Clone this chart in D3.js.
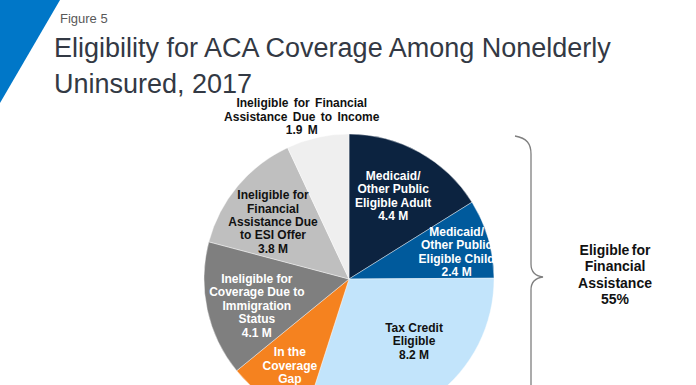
<!DOCTYPE html>
<html>
<head>
<meta charset="utf-8">
<script src="https://cdn.jsdelivr.net/npm/d3@7"></script>
<style>
  html, body { margin: 0; padding: 0; background: #fff; overflow: hidden; }
  text { font-family: "Liberation Sans", Arial, sans-serif; }
</style>
</head>
<body>
<div id="chart"></div>
<script>
// Slices, clockwise from 12 o'clock (millions)
const categories = [
    "Medicaid/Other Public Eligible Adult",
    "Medicaid/Other Public Eligible Child",
    "Tax Credit Eligible",
    "In the Coverage Gap",
    "Ineligible for Coverage Due to Immigration Status",
    "Ineligible for Financial Assistance Due to ESI Offer",
    "Ineligible for Financial Assistance Due to Income"
];
const values = [4.4, 2.4, 8.2, 2.5, 4.1, 3.8, 1.9];
const labelLines = [
    ["Medicaid/", "Other Public", "Eligible Adult", "4.4 M"],
    ["Medicaid/", "Other Public", "Eligible Child", "2.4 M"],
    ["Tax Credit", "Eligible", "8.2 M"],
    ["In the", "Coverage", "Gap"],
    ["Ineligible for", "Coverage Due to", "Immigration", "Status", "4.1 M"],
    ["Ineligible for", "Financial", "Assistance Due", "to ESI Offer", "3.8 M"],
    ["Ineligible for Financial", "Assistance Due to Income", "1.9 M"]
];
const braceLines = ["Eligible for", "Financial", "Assistance", "55%"];

const colors = ["#0c2340", "#005a9c", "#c2e4fb", "#f5821f", "#7f7f7f", "#bfbfbf", "#efefef"];
const textColors = ["#fff", "#fff", "#111", "#fff", "#fff", "#111", "#111"];
// label placement: [angle shift in degrees, radius]
const labelPlace = [[-1, 94], [2, 111], [-10, 90], [0, 105], [-4, 96], [-3, 95], [-3.7, 169]];

const width = 696;
const height = 385;

const svg = d3.select("#chart")
    .append("svg")
    .attr("width", width)
    .attr("height", height);

// Blue corner accent
svg.append("path")
    .attr("d", "M0,0 L60,0 L0,103 Z")
    .attr("fill", "#0077c8");

svg.append("text")
    .attr("x", 60)
    .attr("y", 23)
    .attr("font-size", "13px")
    .attr("fill", "#595959")
    .text("Figure 5");

const title = svg.append("text")
    .attr("x", 54)
    .attr("font-size", "27px")
    .attr("fill", "#333944");
title.append("tspan").attr("x", 54).attr("y", 57)
    .text("Eligibility for ACA Coverage Among Nonelderly");
title.append("tspan").attr("x", 54).attr("y", 93)
    .text("Uninsured, 2017");

// Pie
const cx = 349, cy = 279, radius = 145;
const pie = d3.pie().sort(null).value(d => d);
const arcs = pie(values);
const arc = d3.arc().innerRadius(0).outerRadius(radius);

const g = svg.append("g").attr("transform", `translate(${cx},${cy})`);

g.selectAll("path.slice")
    .data(arcs)
    .enter()
    .append("path")
    .attr("class", "slice")
    .attr("d", arc)
    .attr("fill", (d, i) => colors[i])
    .attr("stroke", "#fff")
    .attr("stroke-width", 0.4);

const lineH = 13.4;
g.selectAll("text.label")
    .data(arcs)
    .enter()
    .append("text")
    .attr("class", "label")
    .attr("text-anchor", "middle")
    .attr("font-size", "12px")
    .attr("font-weight", "700")
    .attr("word-spacing", (d, i) => i === 6 ? "2px" : null)
    .attr("fill", (d, i) => textColors[i])
    .each(function(d, i) {
        const a = (d.startAngle + d.endAngle) / 2 + labelPlace[i][0] * Math.PI / 180;
        const r = labelPlace[i][1];
        const x = Math.sin(a) * r;
        const y = -Math.cos(a) * r;
        const lines = labelLines[i];
        const y0 = y - (lines.length - 1) * lineH / 2 + 4;
        lines.forEach((t, k) => {
            d3.select(this).append("tspan")
                .attr("x", x)
                .attr("y", y0 + k * lineH)
                .text(t);
        });
    });

// Brace for eligible slices
svg.append("path")
    .attr("d", "M515,136 C527,138 531,144 531,154 L531,264 C531,272 535,276 543,277 C535,278 531,282 531,290 L531,390")
    .attr("fill", "none")
    .attr("stroke", "#7f7f7f")
    .attr("stroke-width", 1.3);

const braceText = svg.append("text")
    .attr("text-anchor", "middle")
    .attr("font-size", "14px")
    .attr("font-weight", "700")
    .attr("word-spacing", "-1.5px")
    .attr("fill", "#111");
braceLines.forEach((t, k) => {
    braceText.append("tspan")
        .attr("x", 615)
        .attr("y", 255 + k * 16.3)
        .text(t);
});
</script>
</body>
</html>
